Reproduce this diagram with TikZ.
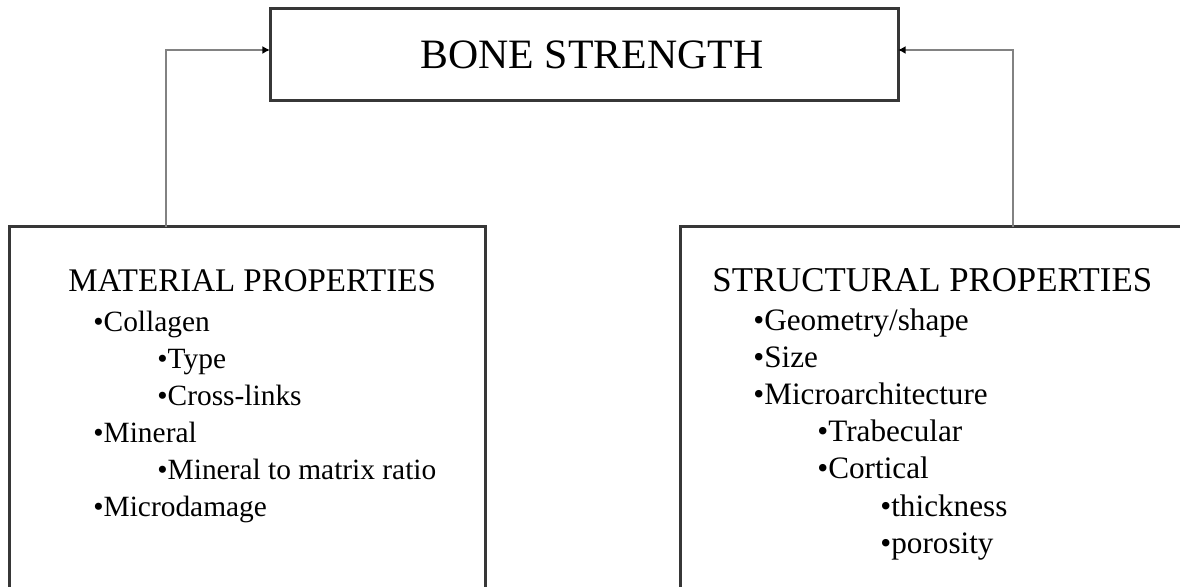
\documentclass[tikz,border=0pt]{standalone}
\usepackage{fontspec}
\setmainfont{Liberation Serif}
\usetikzlibrary{arrows.meta}
\usetikzlibrary{positioning}

\definecolor{edgeD}{RGB}{55,55,55}
\definecolor{linkG}{RGB}{130,130,130}

\tikzset{
	box/.style={draw=edgeD, line width=1.5pt, inner sep=0pt, outer sep=0pt},
	link/.style={draw=linkG, line width=1.2pt, -{Latex[length=3.8pt,width=4pt,color=black]}},
	title/.style={font=\fontsize{20.9}{24}\selectfont},
	head/.style={font=\fontsize{16.5}{19}\selectfont, anchor=base west, inner sep=0pt},
	item/.style={font=\fontsize{14.7}{17}\selectfont, anchor=base west, inner sep=0pt},
	headR/.style={head, font=\fontsize{17.4}{20}\selectfont},
	itemR/.style={item, font=\fontsize{15.6}{18}\selectfont},
}

\begin{document}
\begin{tikzpicture}[x=0.5pt, y=-0.5pt, line cap=butt, line join=miter]
	
	% --- canvas (boxes run off the bottom and right edge)
	\path[use as bounding box] (0,0) rectangle (1180,587);
	\clip (0,0) rectangle (1180,587);
	
	% --- top box
	\node[box, title, minimum width=314pt, minimum height=46pt] (bone) at (584,55) {\hspace*{8pt}BONE STRENGTH};
	
	% --- lower boxes
	\node[box, anchor=north west, minimum width=238pt, minimum height=250pt] (matl) at (9,227) {};
	\node[box, anchor=north west, minimum width=300pt, minimum height=250pt] (strc) at (680,227) {};
	
	% --- material properties list
	\node[head] (mhead) at (68,292) {MATERIAL PROPERTIES};
	\foreach \txt/\xx [count=\i] in {Collagen/93, Type/157, Cross-links/157, Mineral/93, {Mineral to matrix ratio}/157, Microdamage/93}
		\node[item] (m\i) at (\xx,{295+37*\i}) {\textbullet\txt};
	
	% --- structural properties list
	\node[headR] (shead) at (712,292) {STRUCTURAL PROPERTIES};
	\foreach \txt/\xx [count=\i] in {{Geometry/shape}/753, Size/753, Microarchitecture/753, Trabecular/817, Cortical/817, thickness/880, porosity/880}
		\node[itemR] (s\i) at (\xx,{293+37.2*\i}) {\textbullet\txt};
	
	% --- connectors
	\draw[link] ([xshift=78.5pt]matl.north west) |- ([yshift=2.5pt]bone.west);
	\draw[link] ([xshift=166.5pt]strc.north west) |- ([yshift=2.5pt]bone.east);
	
\end{tikzpicture}
\end{document}
